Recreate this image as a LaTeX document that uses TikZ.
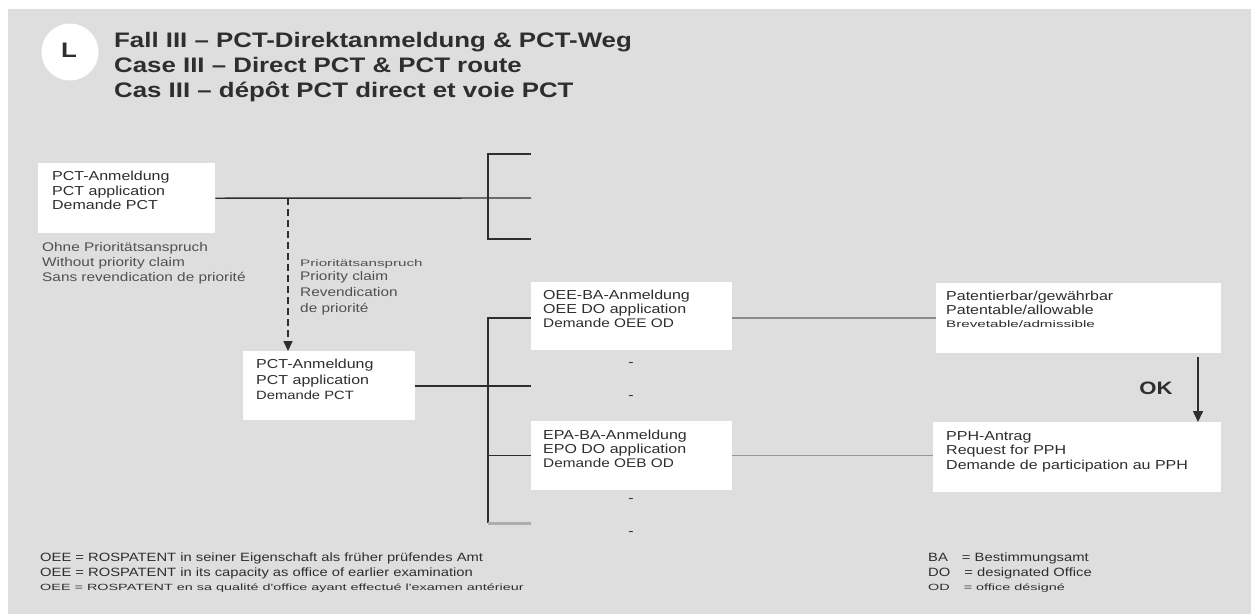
\documentclass[tikz,border=0pt]{standalone}
\usepackage{fontspec}
\setmainfont{Liberation Sans}[FakeStretch=1.23]
\newfontfamily\widefont{Liberation Sans}[FakeStretch=1.6]
\usetikzlibrary{arrows.meta}
\definecolor{bg}{HTML}{DEDEDE}
\definecolor{ink}{HTML}{2E2E2E}
\definecolor{soft}{HTML}{505050}
\definecolor{lgray}{HTML}{8A8A8A}
\begin{document}
\begin{tikzpicture}[x=1pt,y=-1pt,
  box/.style={fill=white,draw=none,anchor=north west,inner sep=0pt},
  txt/.style={anchor=north west,inner sep=0pt,align=left,text=ink,font=\fontsize{13}{14.5}\selectfont},
  small/.style={anchor=north west,inner sep=0pt,align=left,text=soft,font=\fontsize{12.5}{15}\selectfont},
  tiny/.style={anchor=north west,inner sep=0pt,align=left,text=ink,font=\fontsize{9.5}{11}\widefont},
  ttl/.style={anchor=north west,inner sep=0pt,align=left,text=ink,font=\fontsize{21}{25}\selectfont\bfseries},
  link/.style={draw=ink,line width=1.4pt},
  brk/.style={draw=ink,line width=2pt},
  glink/.style={draw=lgray,line width=1.3pt},
  dashmark/.style={inner sep=0pt,text=ink,font=\fontsize{13}{13}\selectfont}
]
\useasboundingbox (0,0) rectangle (1251,614);
\fill[white] (0,0) rectangle (1251,614);
\fill[bg] (8,9) rectangle (1251,614);

% header
\node[circle,fill=white,minimum size=57pt,inner sep=0pt] (circ) at (70,52) {};
\node[font=\fontsize{21}{21}\selectfont\bfseries,text=ink] (Lt) at (69,50) {L};
\node[ttl] (title) at (114,32.5) {Fall III -- PCT-Direktanmeldung \& PCT-Weg\\Case III -- Direct PCT \& PCT route\\Cas III -- dépôt PCT direct et voie PCT};

% boxes
\node[box,minimum width=177pt,minimum height=70pt] (A) at (38,163) {};
\node[txt] (At) at (52,171) {PCT-Anmeldung\\PCT application\\Demande PCT};
\node[small] (noprio) at (42,242.5) {Ohne Prioritätsanspruch\\Without priority claim\\Sans revendication de priorité};

\node[box,minimum width=172pt,minimum height=69pt] (B) at (243,351) {};
\node[txt,font=\fontsize{13}{15.5}\selectfont] (Bt) at (256,359) {PCT-Anmeldung\\PCT application\\{\fontsize{12}{15}\selectfont Demande PCT}};
\node[tiny,text=soft] (prio0) at (300,259) {Prioritätsanspruch};
\node[small,font=\fontsize{12.5}{16}\selectfont] (prio) at (300,271.5) {Priority claim\\Revendication\\de priorité};

\node[box,minimum width=201pt,minimum height=68pt] (C) at (531,282) {};
\node[txt,font=\fontsize{13}{14}\selectfont] (Ct) at (543,290) {OEE-BA-Anmeldung\\OEE DO application\\{\fontsize{12.5}{14}\selectfont Demande OEE OD}};

\node[box,minimum width=201pt,minimum height=69pt] (E) at (531,421) {};
\node[txt,font=\fontsize{13}{14}\selectfont] (Et) at (543,430) {EPA-BA-Anmeldung\\EPO DO application\\{\fontsize{12.5}{14}\selectfont Demande OEB OD}};

\node[box,minimum width=285pt,minimum height=70pt] (D) at (936,283) {};
\node[txt,font=\fontsize{13}{14}\selectfont] (Dt) at (946,291) {Patentierbar/gewährbar\\Patentable/allowable};
\node[tiny] (Dt3) at (946,320) {Brevetable/admissible};

\node[box,minimum width=288pt,minimum height=70pt] (F) at (933,422) {};
\node[txt] (Ft) at (946,431) {PPH-Antrag\\Request for PPH\\Demande de participation au PPH};

% dashes
\node[dashmark] (m1) at (631,365) {-};
\node[dashmark] (m2) at (631,398) {-};
\node[dashmark] (m3) at (631,501) {-};
\node[dashmark] (m4) at (631,534) {-};

% top bracket
\coordinate (t1a) at (488,154);
\coordinate (t1b) at (531,154);
\coordinate (t2b) at (531,198);
\coordinate (t3a) at (488,239);
\coordinate (t3b) at (531,239);
\draw[link] (A.east) -- (t2b);
\draw[brk] (t1b) -- (t1a) -- (t3a) -- (t3b);

% dashed priority arrow
\coordinate (dstart) at (288,198);
\draw[draw=ink,line width=1.6pt,dash pattern=on 7pt off 4pt,-{Triangle[length=10pt,width=9pt]}] (dstart) -- (B.north -| dstart);

% lower bracket
\coordinate (j2) at (488,386);
\coordinate (u1) at (488,318);
\coordinate (u4a) at (488,523);
\coordinate (u4b) at (531,523);
\coordinate (u2) at (531,386);
\draw[link] (B.east |- j2) -- (u2);
\draw[brk] (C.west |- u1) -- (u1) -- (u4a);
\draw[link] (u4a |- E.west) -- (E.west);
\draw[draw=lgray!70,line width=3pt] (u4a) -- (u4b);

% right links
\draw[glink] (C.east |- u1) -- (D.west |- u1);
\draw[draw=lgray!90,line width=1pt] (E.east) -- (F.west |- E.east);

% OK arrow
\coordinate (ok1) at (1198,357);
\draw[draw=ink,line width=1.6pt,-{Triangle[length=11pt,width=10pt]}] (ok1) -- (F.north -| ok1);
\node[font=\fontsize{18}{18}\selectfont\bfseries,text=ink] (ok) at (1156,388) {OK};

% footnotes
\node[small,text=ink,font=\fontsize{12}{15}\selectfont] (fn1) at (40,552.5) {OEE = ROSPATENT in seiner Eigenschaft als früher prüfendes Amt\\OEE = ROSPATENT in its capacity as office of earlier examination};
\node[tiny,font=\fontsize{9}{11}\widefont] (fn1c) at (40,584) {OEE = ROSPATENT en sa qualité d'office ayant effectué l'examen antérieur};
\node[small,text=ink,font=\fontsize{12}{15}\selectfont] (fn2) at (928,552.5) {BA\hspace{10pt} = Bestimmungsamt\\DO\hspace{10pt} = designated Office};
\node[tiny,font=\fontsize{9}{11}\widefont] (fn2c) at (928,584) {OD\hspace{10pt} = office désigné};
\end{tikzpicture}
\end{document}
